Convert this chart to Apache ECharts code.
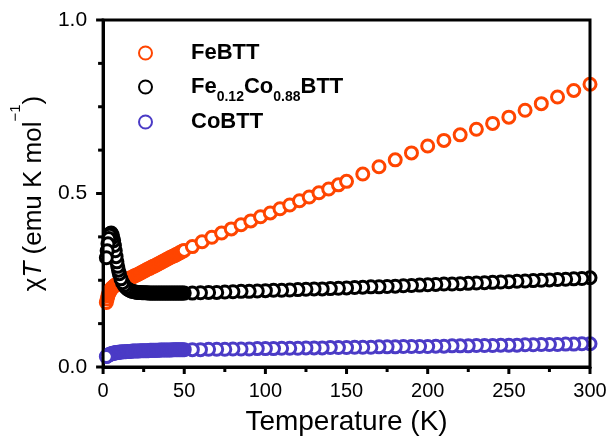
<!DOCTYPE html>
<html>
<head>
<meta charset="utf-8">
<script src="https://cdn.jsdelivr.net/npm/echarts@6/dist/echarts.min.js"></script>
</head>
<body style="margin:0">
<div id="chart" style="width:613px;height:441px"></div>
<script>
// temperatures (K)
var tLow = [2, 2.5, 3, 3.5, 4, 4.5, 5, 5.5, 6, 6.5, 7, 7.5, 8, 8.5, 9, 9.5, 10,
            11, 12, 13, 14, 15, 16, 17, 18, 19, 20, 21, 22, 23, 24, 25, 26, 27, 28, 29, 30,
            31, 32, 33, 34, 35, 36, 37, 38, 39, 40, 41, 42, 43, 44, 45, 46, 47, 48, 49, 50];
var tHigh = [55, 60, 65, 70, 75, 80, 85, 90, 95, 100, 105, 110, 115, 120, 125, 130, 135, 140, 145, 150,
             155, 160, 165, 170, 175, 180, 185, 190, 195, 200, 205, 210, 215, 220, 225, 230, 235, 240, 245, 250,
             255, 260, 265, 270, 275, 280, 285, 290, 295, 300];
var tFeHigh = [55, 61, 67, 73, 79, 85, 91, 97, 103, 109, 115, 121, 127, 133, 139, 145, 150,
               160, 170, 180, 190, 200, 210, 220, 230, 240, 250, 260, 270, 280, 290, 300];

// chi*T (emu K mol^-1)
var feLow = [0.186, 0.196, 0.205, 0.212, 0.217, 0.221, 0.225, 0.228, 0.230, 0.232, 0.234, 0.236, 0.237, 0.238, 0.240, 0.241, 0.242,
             0.244, 0.246, 0.248, 0.250, 0.253, 0.255, 0.257, 0.259, 0.262, 0.264, 0.266, 0.268, 0.271, 0.273, 0.276, 0.278, 0.281, 0.283, 0.285, 0.288,
             0.290, 0.292, 0.295, 0.297, 0.300, 0.302, 0.305, 0.307, 0.310, 0.312, 0.315, 0.317, 0.319, 0.321, 0.324, 0.326, 0.329, 0.331, 0.334, 0.336];
var feHigh = [0.347, 0.361, 0.374, 0.386, 0.398, 0.410, 0.421, 0.433, 0.444, 0.456, 0.467, 0.479, 0.490, 0.502, 0.513, 0.525, 0.535,
              0.556, 0.577, 0.597, 0.617, 0.637, 0.653, 0.669, 0.685, 0.702, 0.720, 0.740, 0.759, 0.778, 0.797, 0.815];

var mixLow = [0.315, 0.335, 0.355, 0.370, 0.380, 0.385, 0.386, 0.382, 0.374, 0.364, 0.350, 0.335, 0.318, 0.303, 0.290, 0.279, 0.269,
              0.254, 0.243, 0.235, 0.229, 0.225, 0.222, 0.220, 0.218, 0.217, 0.216, 0.215, 0.215, 0.215, 0.214, 0.214, 0.214, 0.214, 0.213, 0.213, 0.213,
              0.213, 0.213, 0.213, 0.213, 0.213, 0.213, 0.213, 0.213, 0.213, 0.213, 0.213, 0.213, 0.213, 0.213, 0.213, 0.213, 0.213, 0.213, 0.213, 0.213];
var mixHigh = [0.213, 0.214, 0.215, 0.215, 0.216, 0.217, 0.218, 0.218, 0.219, 0.220, 0.221, 0.221, 0.222, 0.223, 0.224, 0.225, 0.225, 0.226, 0.227, 0.228,
               0.229, 0.230, 0.231, 0.231, 0.232, 0.233, 0.234, 0.235, 0.236, 0.237, 0.238, 0.239, 0.239, 0.240, 0.241, 0.242, 0.243, 0.244, 0.245, 0.246,
               0.247, 0.248, 0.249, 0.250, 0.251, 0.252, 0.253, 0.254, 0.255, 0.257];

var coLow = [0.030, 0.032, 0.034, 0.035, 0.036, 0.037, 0.038, 0.039, 0.039, 0.040, 0.040, 0.041, 0.041, 0.042, 0.042, 0.042, 0.043,
             0.043, 0.044, 0.044, 0.044, 0.045, 0.045, 0.045, 0.046, 0.046, 0.046, 0.046, 0.046, 0.047, 0.047, 0.047, 0.047, 0.047, 0.047, 0.048, 0.048,
             0.048, 0.048, 0.048, 0.048, 0.049, 0.049, 0.049, 0.049, 0.049, 0.049, 0.049, 0.049, 0.050, 0.050, 0.050, 0.050, 0.050, 0.050, 0.050, 0.050];
var coHigh = [0.050, 0.050, 0.051, 0.051, 0.051, 0.052, 0.052, 0.052, 0.053, 0.053, 0.053, 0.054, 0.054, 0.054, 0.055, 0.055, 0.055, 0.056, 0.056, 0.056,
              0.057, 0.057, 0.057, 0.058, 0.058, 0.058, 0.059, 0.059, 0.059, 0.059, 0.060, 0.060, 0.061, 0.061, 0.061, 0.062, 0.062, 0.062, 0.063, 0.063,
              0.063, 0.064, 0.064, 0.065, 0.065, 0.065, 0.066, 0.066, 0.067, 0.067];

var seriesNames = ['FeBTT', 'Fe0.12Co0.88BTT', 'CoBTT'];
var colors = ['#ff4500', '#000000', '#4b3bc6'];
var xTicks = [0, 50, 100, 150, 200, 250, 300];
var yTicks = [0.0, 0.5, 1.0];
var xMinorSplit = 2;
var yMinorSplit = 4;

var font = 'Liberation Sans, Arial, sans-serif';
var ls = { color: '#000', width: 3 };

function pairs(ts, vs) {
    return ts.map(function (t, i) { return [t, vs[i]]; });
}

function minorTicks(ticks, split) {
    var out = [];
    for (var i = 0; i < ticks.length - 1; i++) {
        var step = (ticks[i + 1] - ticks[i]) / split;
        for (var k = 1; k < split; k++) out.push(ticks[i] + k * step);
    }
    return out;
}

function makeSeries(name, color, data) {
    return {
        name: name,
        type: 'scatter',
        data: data,
        symbol: 'circle',
        symbolSize: 12,
        itemStyle: { color: '#fff', borderColor: color, borderWidth: 3, opacity: 1 }
    };
}

function makeLegend(name, top) {
    return {
        data: [name],
        left: 133,
        top: top,
        icon: 'circle',
        itemWidth: 13,
        itemHeight: 13,
        selectedMode: false,
        formatter: function (n) {
            if (n === 'Fe0.12Co0.88BTT') return 'Fe{sub|0.12}Co{sub|0.88}BTT';
            return n;
        },
        textStyle: {
            fontFamily: font,
            fontSize: 22,
            fontWeight: 'bold',
            color: '#000',
            lineHeight: 34,
            padding: [0, 0, 0, 34],
            rich: {
                sub: { fontFamily: font, fontSize: 14, fontWeight: 'bold', color: '#000', lineHeight: 14, verticalAlign: 'bottom' }
            }
        }
    };
}

// box frame and outward ticks, placed through the axes' own scales
function renderFrame(params, api) {
    var x0 = xTicks[0], x1 = xTicks[xTicks.length - 1];
    var y0 = yTicks[0], y1 = yTicks[yTicks.length - 1];
    var bl = api.coord([x0, y0]);
    var tr = api.coord([x1, y1]);
    var stroke = { stroke: '#000', lineWidth: 3, fill: 'none' };
    var children = [{
        type: 'rect',
        shape: { x: bl[0], y: tr[1], width: tr[0] - bl[0], height: bl[1] - tr[1] },
        style: stroke
    }];
    function xTick(v, len) {
        var p = api.coord([v, y0]);
        children.push({ type: 'line', shape: { x1: p[0], y1: bl[1], x2: p[0], y2: bl[1] + len }, style: stroke });
    }
    function yTick(v, len) {
        var p = api.coord([x0, v]);
        children.push({ type: 'line', shape: { x1: bl[0], y1: p[1], x2: bl[0] - len, y2: p[1] }, style: stroke });
    }
    xTicks.forEach(function (v) { xTick(v, 7); });
    minorTicks(xTicks, xMinorSplit).forEach(function (v) { xTick(v, 5); });
    yTicks.forEach(function (v) { yTick(v, 7); });
    minorTicks(yTicks, yMinorSplit).forEach(function (v) { yTick(v, 5); });
    return { type: 'group', children: children };
}

var chart = echarts.init(document.getElementById('chart'));
chart.setOption({
    animation: false,
    grid: { left: 102, right: 23, top: 20, bottom: 69 },
    legend: [
        makeLegend(seriesNames[0], 31),
        makeLegend(seriesNames[1], 65),
        makeLegend(seriesNames[2], 100)
    ],
    xAxis: {
        type: 'value',
        min: xTicks[0],
        max: xTicks[xTicks.length - 1],
        interval: xTicks[1] - xTicks[0],
        name: 'Temperature (K)',
        nameLocation: 'middle',
        nameGap: 41,
        nameTextStyle: { fontFamily: font, fontSize: 28, color: '#000' },
        axisLine: { show: true, onZero: false, lineStyle: ls },
        axisTick: { show: false },
        axisLabel: { fontFamily: font, fontSize: 20, color: '#000', margin: 14 },
        splitLine: { show: false }
    },
    yAxis: {
        type: 'value',
        min: yTicks[0],
        max: yTicks[yTicks.length - 1],
        interval: yTicks[1] - yTicks[0],
        name: '{g|χ}{i|T}{g| (emu K mol}{s|−1}{g|)}',
        nameLocation: 'middle',
        nameRotate: 90,
        nameGap: 38,
        nameTextStyle: {
            fontFamily: font, fontSize: 26, color: '#000',
            rich: {
                g: { fontFamily: font, fontSize: 26, color: '#000', lineHeight: 52 },
                i: { fontFamily: font, fontSize: 26, color: '#000', fontStyle: 'italic', lineHeight: 52 },
                s: { fontFamily: font, fontSize: 15, color: '#000', lineHeight: 15, verticalAlign: 'top' }
            }
        },
        axisLine: { show: true, onZero: false, lineStyle: ls },
        axisTick: { show: false },
        axisLabel: {
            fontFamily: font, fontSize: 21, color: '#000', margin: 16,
            formatter: function (v) { return v.toFixed(1); }
        },
        splitLine: { show: false }
    },
    series: [
        makeSeries(seriesNames[0], colors[0], pairs(tLow.concat(tFeHigh), feLow.concat(feHigh))),
        // cooling run: drawn from high to low temperature
        makeSeries(seriesNames[1], colors[1], pairs(tLow.concat(tHigh), mixLow.concat(mixHigh)).reverse()),
        makeSeries(seriesNames[2], colors[2], pairs(tLow.concat(tHigh), coLow.concat(coHigh)).reverse()),
        {
            name: 'frame',
            type: 'custom',
            z: 5,
            clip: false,
            silent: true,
            data: [[xTicks[0], yTicks[0]]],
            renderItem: renderFrame
        }
    ]
});
</script>
</body>
</html>
